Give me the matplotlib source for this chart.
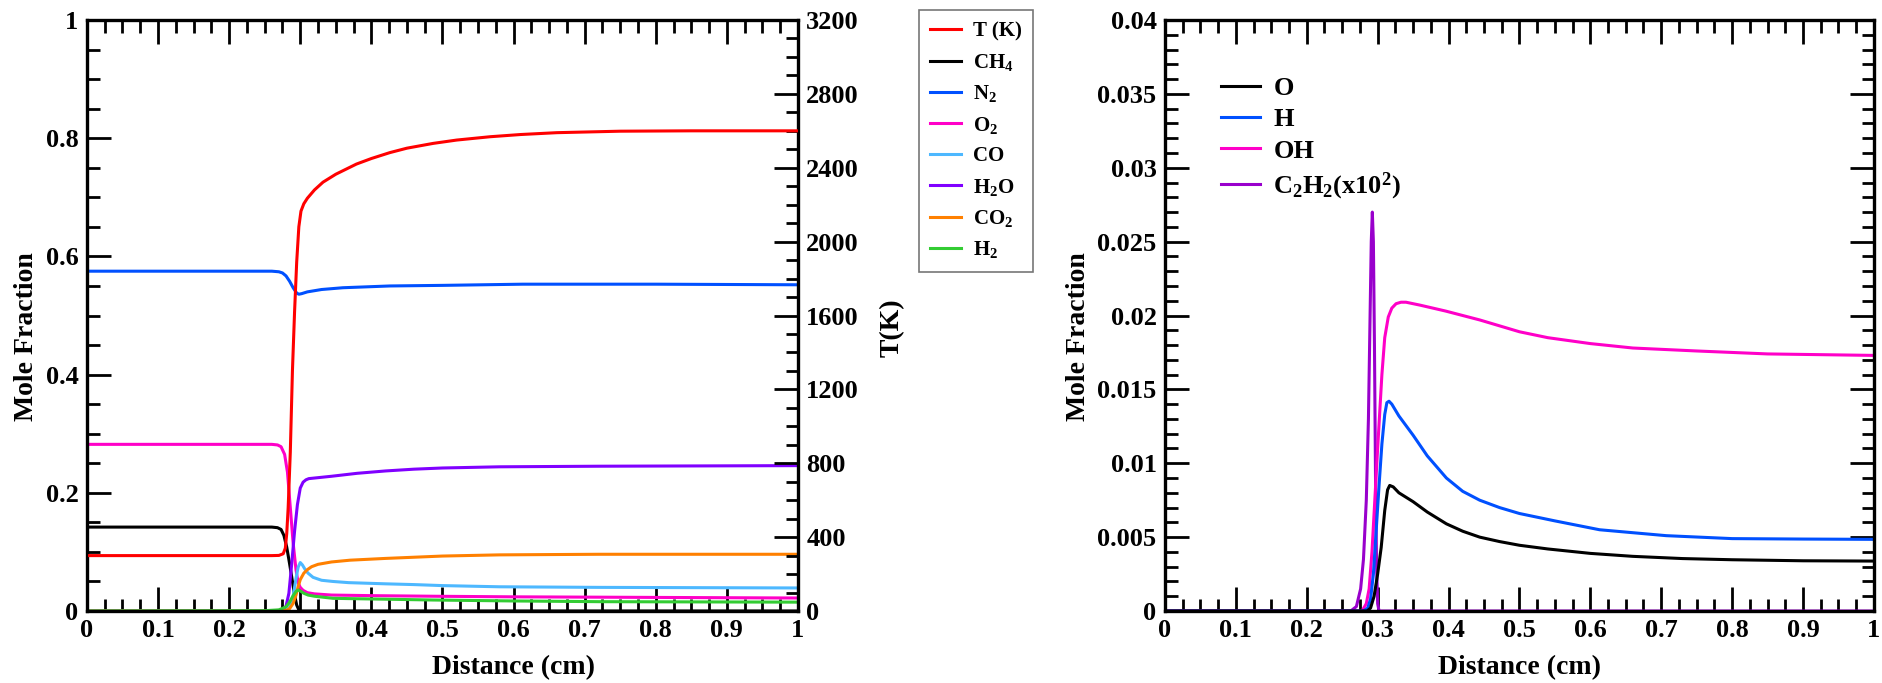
import matplotlib

matplotlib.use("Agg")
import matplotlib.pyplot as plt  # noqa: E402
from matplotlib.ticker import MultipleLocator, FuncFormatter  # noqa: E402

plt.rcParams["font.family"] = ["Liberation Serif", "DejaVu Serif"]
plt.rcParams["font.weight"] = "bold"
plt.rcParams["mathtext.fontset"] = "custom"
plt.rcParams["mathtext.rm"] = "Liberation Serif:bold"
plt.rcParams["mathtext.bf"] = "Liberation Serif:bold"
plt.rcParams["mathtext.it"] = "Liberation Serif:bold"
plt.rcParams["mathtext.default"] = "bf"

# ---- left panel: major species (mole fraction) + temperature ----
x_T = [0, 0.26, 0.27, 0.276, 0.279, 0.281, 0.283, 0.286, 0.289, 0.292, 0.295, 0.298,
       0.301, 0.305, 0.31, 0.32, 0.332, 0.35, 0.379, 0.40, 0.426, 0.45, 0.487, 0.52,
       0.567, 0.61, 0.661, 0.75, 0.85, 1.0]
T_K = [300, 300, 301, 310, 340, 420, 560, 860, 1300, 1620, 1890, 2080,
       2165, 2205, 2235, 2280, 2322, 2365, 2420, 2450, 2482, 2506, 2532, 2550,
       2568, 2580, 2590, 2598, 2600, 2600]

x_N2 = [0, 0.26, 0.27, 0.275, 0.28, 0.285, 0.29, 0.295, 0.298, 0.302, 0.31, 0.33,
        0.36, 0.426, 0.5, 0.613, 0.8, 1.0]
N2 = [0.575, 0.575, 0.574, 0.572, 0.567, 0.558, 0.547, 0.538, 0.536, 0.537, 0.540, 0.544,
      0.547, 0.550, 0.551, 0.553, 0.553, 0.552]

x_O2 = [0, 0.26, 0.268, 0.273, 0.278, 0.282, 0.286, 0.29, 0.294, 0.297, 0.300, 0.304,
        0.31, 0.32, 0.344, 0.4, 0.487, 0.6, 0.8, 1.0]
O2 = [0.282, 0.282, 0.281, 0.278, 0.265, 0.235, 0.175, 0.115, 0.07, 0.048, 0.04, 0.035,
      0.031, 0.029, 0.027, 0.026, 0.025, 0.024, 0.023, 0.022]

x_CH4 = [0, 0.26, 0.268, 0.273, 0.277, 0.281, 0.285, 0.289, 0.292, 0.295, 0.298, 0.30, 1.0]
CH4 = [0.142, 0.142, 0.141, 0.138, 0.128, 0.108, 0.08, 0.05, 0.027, 0.01, 0.002, 0, 0]

x_H2O = [0, 0.265, 0.275, 0.28, 0.284, 0.288, 0.292, 0.296, 0.30, 0.304, 0.308, 0.312,
         0.32, 0.344, 0.38, 0.42, 0.46, 0.5, 0.58, 0.72, 1.0]
H2O = [0, 0, 0.002, 0.008, 0.03, 0.08, 0.135, 0.18, 0.208, 0.218, 0.222, 0.224,
       0.225, 0.228, 0.233, 0.237, 0.240, 0.242, 0.244, 0.245, 0.246]

x_CO2 = [0, 0.27, 0.28, 0.285, 0.29, 0.294, 0.297, 0.30, 0.305, 0.31, 0.316, 0.325,
         0.344, 0.37, 0.42, 0.46, 0.5, 0.58, 0.72, 1.0]
CO2 = [0, 0, 0.001, 0.004, 0.013, 0.027, 0.041, 0.053, 0.064, 0.07, 0.075, 0.079,
       0.083, 0.086, 0.089, 0.091, 0.093, 0.095, 0.096, 0.096]

x_CO = [0, 0.275, 0.282, 0.286, 0.29, 0.294, 0.297, 0.30, 0.303, 0.307, 0.311, 0.318,
        0.33, 0.346, 0.368, 0.42, 0.46, 0.5, 0.58, 0.72, 1.0]
CO = [0, 0, 0.002, 0.008, 0.025, 0.055, 0.074, 0.082, 0.078, 0.07, 0.064, 0.057,
      0.052, 0.05, 0.048, 0.046, 0.0447, 0.043, 0.041, 0.04, 0.039]

x_H2 = [0, 0.25, 0.27, 0.28, 0.285, 0.29, 0.294, 0.297, 0.30, 0.305, 0.311, 0.32,
        0.346, 0.368, 0.42, 0.487, 0.6, 0.72, 1.0]
H2 = [0, 0.0005, 0.002, 0.007, 0.015, 0.026, 0.033, 0.0355, 0.034, 0.03, 0.027, 0.025,
      0.0215, 0.021, 0.02, 0.0186, 0.017, 0.0158, 0.015]

# ---- right panel: radicals ----
x_O = [0, 0.285, 0.29, 0.295, 0.30, 0.305, 0.31, 0.314, 0.317, 0.322, 0.33, 0.35, 0.37,
       0.397, 0.42, 0.444, 0.472, 0.5, 0.54, 0.6, 0.66, 0.73, 0.8, 0.9, 1.0]
O = [0, 0, 0.0002, 0.0010, 0.0025, 0.0043, 0.0068, 0.0082, 0.0085, 0.0084, 0.0080, 0.0074,
     0.0067, 0.0059, 0.0054, 0.0050, 0.0047, 0.00445, 0.0042, 0.0039, 0.0037, 0.00355,
     0.00347, 0.0034, 0.00338]

x_H = [0, 0.28, 0.286, 0.29, 0.294, 0.298, 0.302, 0.306, 0.31, 0.313, 0.316, 0.32, 0.33,
       0.35, 0.37, 0.397, 0.42, 0.444, 0.472, 0.5, 0.55, 0.613, 0.66, 0.707, 0.8, 0.9, 1.0]
H = [0, 0, 0.0002, 0.0008, 0.0025, 0.0055, 0.0085, 0.0113, 0.0133, 0.0141, 0.0142, 0.0140,
     0.0132, 0.0119, 0.0105, 0.0090, 0.0081, 0.0075, 0.0070, 0.0066, 0.0061, 0.0055,
     0.0053, 0.0051, 0.0049, 0.00487, 0.00485]

x_OH = [0, 0.278, 0.284, 0.288, 0.292, 0.296, 0.30, 0.303, 0.306, 0.31, 0.315, 0.32,
        0.326, 0.333, 0.34, 0.36, 0.396, 0.444, 0.472, 0.5, 0.54, 0.6, 0.66, 0.75, 0.85, 1.0]
OH = [0, 0, 0.0005, 0.0015, 0.004, 0.0075, 0.011, 0.0135, 0.016, 0.0185, 0.0199, 0.0205,
      0.0208, 0.0209, 0.0209, 0.0207, 0.0203, 0.0197, 0.0193, 0.0189, 0.0185, 0.0181,
      0.0178, 0.0176, 0.0174, 0.0173]

x_C2H2 = [0, 0.262, 0.27, 0.276, 0.28, 0.284, 0.287, 0.289, 0.291, 0.2925, 0.294, 0.2955,
          0.297, 0.2985, 0.30, 0.302, 1.0]
C2H2_x100 = [0, 0, 0.0003, 0.0015, 0.0035, 0.0075, 0.013, 0.019, 0.025, 0.027, 0.025, 0.018,
             0.009, 0.003, 0.0005, 0, 0]

LW = 2.2
TICK_FS = 19
LABEL_FS = 20


def style_axis(ax):
    for sp in ax.spines.values():
        sp.set_linewidth(2.4)
    ax.tick_params(which="both", direction="in", width=2, labelsize=TICK_FS)
    ax.tick_params(which="major", length=17, pad=6)
    ax.tick_params(which="minor", length=9)
    ax.xaxis.set_major_locator(MultipleLocator(0.1))
    ax.xaxis.set_minor_locator(MultipleLocator(0.025))
    ax.xaxis.set_major_formatter(FuncFormatter(lambda v, p: f"{v:g}"))
    ax.set_xlim(0, 1)
    ax.set_xlabel("Distance (cm)", fontsize=LABEL_FS, fontweight="bold", labelpad=2)


fig = plt.figure(figsize=(18.82, 6.83), dpi=100)
ax1 = fig.add_axes([0.0462, 0.1054, 0.3778, 0.8653])
ax2 = ax1.twinx()

ax1.plot(x_CH4, CH4, color="#000000", lw=LW, label="CH$_4$")
ax1.plot(x_N2, N2, color="#0050FF", lw=LW, label="N$_2$")
ax1.plot(x_O2, O2, color="#FF00C8", lw=LW, label="O$_2$")
ax1.plot(x_CO, CO, color="#4DB8FF", lw=LW, label="CO")
ax1.plot(x_H2O, H2O, color="#8000FF", lw=LW, label="H$_2$O")
ax1.plot(x_CO2, CO2, color="#FF8000", lw=LW, label="CO$_2$")
ax1.plot(x_H2, H2, color="#33CC33", lw=LW, label="H$_2$")
ax2.plot(x_T, T_K, color="#FF0000", lw=LW, label="T (K)")

style_axis(ax1)
ax1.set_ylim(0, 1)
ax1.yaxis.set_major_locator(MultipleLocator(0.2))
ax1.yaxis.set_minor_locator(MultipleLocator(0.05))
ax1.yaxis.set_major_formatter(FuncFormatter(lambda v, p: f"{v:g}"))
ax1.tick_params(which="both", top=True, right=False)
ax1.set_ylabel("Mole Fraction", fontsize=LABEL_FS, fontweight="bold")
ax1.yaxis.set_label_coords(-0.068, 0.465)
ax1.xaxis.set_label_coords(0.60, -0.075)

ax2.set_ylim(0, 3200)
ax2.yaxis.set_major_locator(MultipleLocator(400))
ax2.yaxis.set_minor_locator(MultipleLocator(100))
ax2.tick_params(which="both", direction="in", width=2, labelsize=TICK_FS)
ax2.tick_params(which="major", length=17, pad=6)
ax2.tick_params(which="minor", length=9)
ax2.set_ylabel("T(K)", fontsize=LABEL_FS, fontweight="bold")
ax2.yaxis.set_label_coords(1.115, 0.48)

h1, l1 = ax1.get_legend_handles_labels()
h2, l2 = ax2.get_legend_handles_labels()
leg = fig.legend(h2 + h1, l2 + l1, loc="upper left", bbox_to_anchor=(0.4883, 0.9854),
                 fontsize=15, frameon=True, fancybox=False, handlelength=1.45,
                 handletextpad=0.6, labelspacing=0.5, borderpad=0.55, borderaxespad=0)
leg.get_frame().set_edgecolor("#555555")
leg.get_frame().set_linewidth(1.2)

# right panel
ax3 = fig.add_axes([0.619, 0.1054, 0.3767, 0.8653])
ax3.plot(x_C2H2, C2H2_x100, color="#9900CC", lw=LW, label="C$_2$H$_2$(x10$^2$)")
ax3.plot(x_OH, OH, color="#FF00C8", lw=LW, label="OH")
ax3.plot(x_H, H, color="#0050FF", lw=LW, label="H")
ax3.plot(x_O, O, color="#000000", lw=LW, label="O")
style_axis(ax3)
ax3.set_ylim(0, 0.04)
ax3.yaxis.set_major_locator(MultipleLocator(0.005))
ax3.yaxis.set_minor_locator(MultipleLocator(0.001))
ax3.yaxis.set_major_formatter(FuncFormatter(lambda v, p: f"{v:g}"))
ax3.tick_params(which="both", top=True, right=True)
ax3.set_ylabel("Mole Fraction", fontsize=LABEL_FS, fontweight="bold")
ax3.yaxis.set_label_coords(-0.105, 0.465)
ax3.xaxis.set_label_coords(0.5, -0.075)

h3, l3 = ax3.get_legend_handles_labels()
order = [3, 2, 1, 0]
ax3.legend([h3[i] for i in order], [l3[i] for i in order], loc="upper left",
           bbox_to_anchor=(0.045, 0.945), fontsize=19, frameon=False, handlelength=1.5,
           handletextpad=0.5, labelspacing=0.3)

fig.savefig("out.png", dpi=100)
